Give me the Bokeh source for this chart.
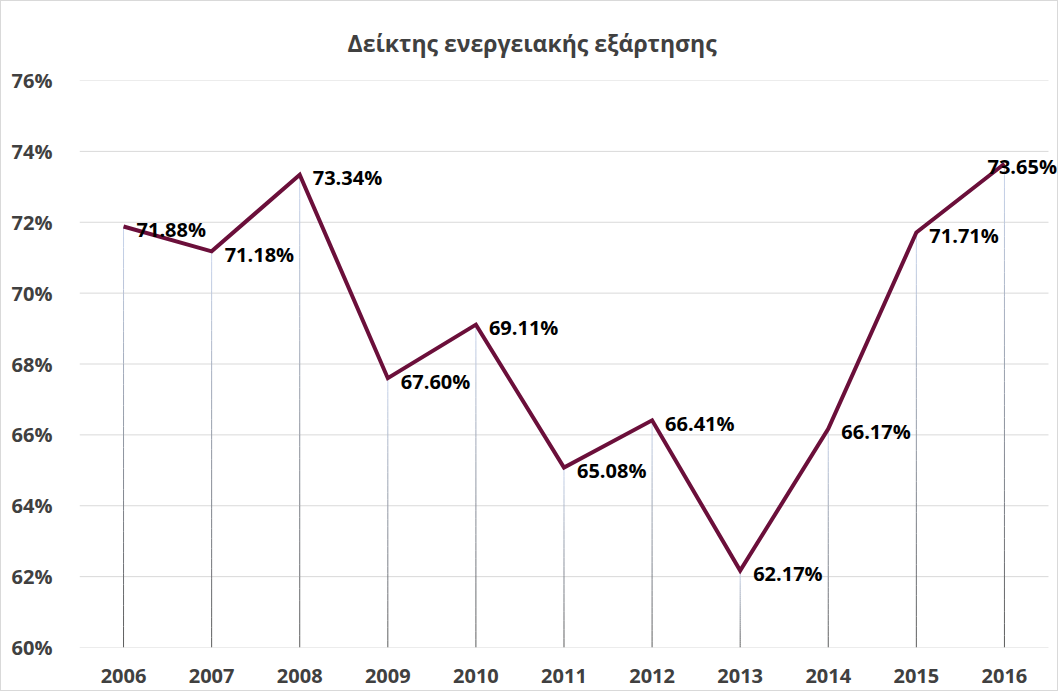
import numpy as np
from bokeh.plotting import figure
from bokeh.models import ColumnDataSource, FixedTicker, PrintfTickFormatter, Range1d
from bokeh.core.properties import value
from bokeh.embed import file_html
from bokeh.resources import INLINE

# ---- data ----
years = ["2006", "2007", "2008", "2009", "2010", "2011", "2012", "2013", "2014", "2015", "2016"]
dependency = [71.88, 71.18, 73.34, 67.60, 69.11, 65.08, 66.41, 62.17, 66.17, 71.71, 73.65]
y_ticks = [60, 62, 64, 66, 68, 70, 72, 74, 76]
title_text = "Δείκτης ενεργειακής εξάρτησης"

FONT = "Open Sans"
Y_MIN, Y_MAX = 60, 76
n = len(years)
xs = list(range(n))
X_START, X_END = -0.5, n - 0.5 + 0.125   # a little extra room on the right for the last label

p = figure(x_range=Range1d(X_START, X_END), y_range=Range1d(Y_MIN, Y_MAX),
           width=1058, height=691,
           output_backend="svg", toolbar_location=None,
           min_border_left=78, min_border_right=0, min_border_top=79, min_border_bottom=45)
p.styles = {"border": "1px solid #d9d9d9", "box-sizing": "border-box"}
p.outline_line_color = None
p.background_fill_color = "white"
p.border_fill_color = "white"

# title
p.title.text = title_text
p.title.align = "left"
p.title.offset = 268
p.title.text_font = FONT
p.title.text_font_style = "bold"
p.title.text_font_size = "23px"
p.title.text_color = "#404040"
p.title.standoff = 43

# grid (drawn manually so it stops at the category area)
p.xgrid.grid_line_color = None
p.ygrid.grid_line_color = None
p.segment(x0=[X_START] * len(y_ticks), y0=y_ticks, x1=[n - 0.5] * len(y_ticks), y1=y_ticks,
          line_color="#d9d9d9", line_width=1)

# axes
p.xaxis.ticker = FixedTicker(ticks=xs)
p.xaxis.major_label_overrides = {i: y for i, y in zip(xs, years)}
p.yaxis.ticker = FixedTicker(ticks=y_ticks)
p.yaxis.formatter = PrintfTickFormatter(format="%d%%")
for ax in (p.xaxis[0], p.yaxis[0]):
    ax.axis_line_color = None
    ax.major_tick_line_color = None
    ax.minor_tick_line_color = None
    ax.major_label_text_font = FONT
    ax.major_label_text_font_style = "bold"
    ax.major_label_text_font_size = "20px"
    ax.major_label_text_color = "#404040"
p.yaxis.major_label_standoff = 21
p.xaxis.major_label_standoff = 15

# gradient drop lines (light blue at top -> dark gray at bottom)
N = 40
top_c = np.array([0xc9, 0xd6, 0xee], dtype=float)
bot_c = np.array([0x5a, 0x5a, 0x5a], dtype=float)
sx, sy0, sy1, scol = [], [], [], []
for xi, v in zip(xs, dependency):
    edges = np.linspace(v, Y_MIN, N + 1)
    for i in range(N):
        t = (i + 0.5) / N
        c = top_c * (1 - t) + bot_c * t
        sx.append(xi)
        sy0.append(edges[i])
        sy1.append(edges[i + 1])
        scol.append("#%02x%02x%02x" % tuple(int(round(k)) for k in c))
p.segment(x0=sx, y0=sy0, x1=sx, y1=sy1, line_color=scol, line_width=1)

# main line
src = ColumnDataSource(dict(x=xs, y=dependency,
                            lab=["%.2f%%" % v for v in dependency]))
p.line("x", "y", source=src, line_color="#6b0f3a", line_width=4, line_join="miter")

# data labels (the last one is pulled left so that it stays inside the chart)
src.data["xo"] = [13] * (n - 1) + [-17]
p.text("x", "y", text="lab", source=src, x_offset="xo", y_offset=3,
       text_font=value(FONT), text_font_style="bold", text_font_size="20px",
       text_color="black", text_baseline="middle", text_align="left")

open("out.html", "w").write(file_html(p, INLINE))
